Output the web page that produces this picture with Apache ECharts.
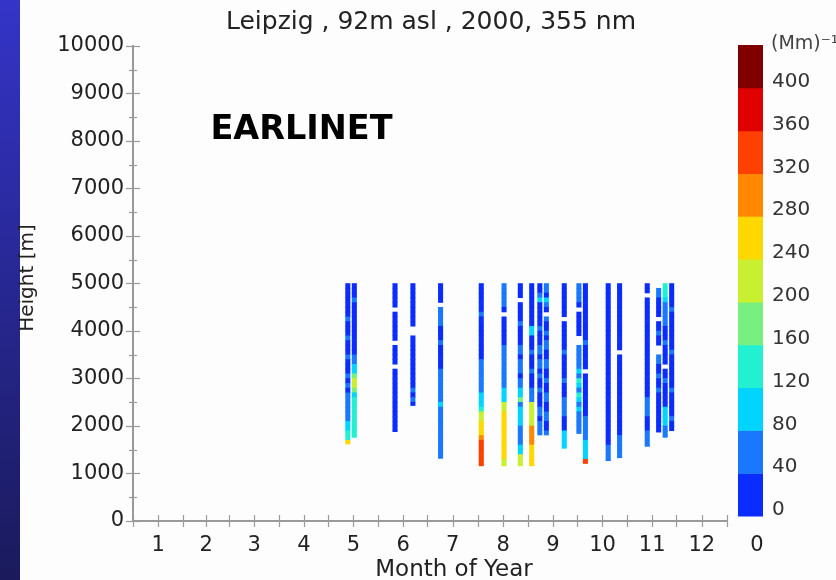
<!DOCTYPE html>
<html><head><meta charset="utf-8">
<script src="https://cdn.jsdelivr.net/npm/echarts@6/dist/echarts.min.js"></script>
<style>html,body{margin:0;padding:0;background:#fdfdfd}#c{width:836px;height:580px}</style>
</head><body><div id="c"></div><script>
// ---------- data ----------
const titleText = 'Leipzig , 92m asl , 2000, 355 nm';
const monthLabels = ['1','2','3','4','5','6','7','8','9','10','11','12'];
const monthMidDays = [15.5, 45, 74.5, 105, 135.5, 166, 196.5, 227.5, 258, 288.5, 319, 349.5];
const monthStartDays = [0, 31, 59, 90, 120, 151, 181, 212, 243, 273, 304, 334, 365];
const heightMin = 0, heightMax = 10000, heightStep = 1000;
const profileTop = 5000;   // top of each profile (m)
const binSize = 100;       // vertical resolution of the profiles (m)
// day of year of each measurement profile
const profileDays = [132, 136, 161, 172, 189, 214, 228, 238, 245, 250, 254, 265, 274, 278, 292, 299, 316, 323, 327, 331];
// lowest height of each profile (m)
const profileBottoms = [1620, 1760, 1880, 2430, 1317, 1160, 1160, 1160, 1160, 1810, 1810, 1530, 1840, 1210, 1268, 1330, 1570, 1870, 1760, 1900];
// extinction (Mm^-1) per 100 m bin, from 5000 m downward; null = no data
const profileValues = [
 [20,20,20,20,20,20,20,60,20,20,20,60,20,20,20,60,20,20,20,60,20,60,20,60,60,60,60,60,60,100,100,140,140,260],
 [20,20,20,60,20,20,20,20,20,20,20,20,20,20,20,60,60,100,100,180,210,210,180,100,140,140,140,140,140,140,140,140,140],
 [20,20,20,20,20,null,20,20,20,20,20,20,null,20,20,20,20,null,20,20,20,20,20,20,20,20,20,20,20,20,20,20],
 [20,20,20,20,20,20,20,20,20,null,null,20,20,20,20,20,20,20,20,20,20,20,60,20,60,20],
 [20,20,20,20,null,60,60,60,60,20,20,20,60,20,20,20,20,20,60,60,60,60,60,60,60,100,60,60,60,60,60,60,60,60,60,60,60],
 [20,20,20,20,20,20,60,20,20,20,20,20,20,20,20,20,60,60,60,60,60,60,60,100,100,100,140,220,220,260,260,260,300,340,340,340,340,340,340],
 [60,60,60,60,60,20,null,20,20,20,20,20,20,60,60,60,60,60,60,60,60,60,100,100,100,220,220,260,260,260,260,260,260,260,260,260,260,220,220],
 [20,20,20,null,20,20,20,20,60,20,20,20,20,60,60,20,60,60,60,20,60,60,100,100,180,60,100,100,100,100,60,60,60,60,100,100,220,220,220],
 [20,20,20,20,20,20,20,20,20,100,100,20,20,20,60,20,20,20,60,20,20,20,60,60,60,220,220,220,220,220,300,300,300,300,260,260,260,260,260],
 [20,20,60,100,20,20,20,20,20,60,20,20,20,60,60,20,60,60,20,60,20,20,60,20,20,20,60,60,20,60,60,60],
 [60,60,20,100,60,20,null,60,20,20,60,20,60,60,20,20,60,60,20,20,60,20,20,60,60,20,20,60,60,20,20,60],
 [20,20,20,20,20,20,20,null,20,20,20,20,20,20,60,20,20,20,20,20,60,20,20,20,60,60,60,60,20,20,20,100,100,100,100],
 [60,60,60,60,20,null,20,20,20,20,20,null,null,60,60,60,60,60,100,60,140,100,60,140,100,60,100,60,60,60,60,60],
 [20,20,20,20,20,20,20,20,20,20,20,20,60,20,20,20,20,20,null,20,20,20,20,20,20,20,20,20,60,60,60,60,60,100,100,100,100,320],
 [20,20,20,20,20,20,20,20,20,20,20,20,20,20,20,20,20,20,20,20,20,20,20,20,20,20,20,20,20,20,20,20,20,20,60,60,60,60],
 [20,20,20,20,20,20,20,20,20,20,20,20,20,20,null,20,20,20,20,20,20,20,20,20,20,20,20,20,20,20,20,20,60,60,60,60,60],
 [20,20,null,20,20,20,20,20,20,20,20,20,20,20,20,20,20,20,20,20,20,20,20,20,60,60,60,60,20,20,20,60,60,60,60],
 [null,60,60,20,20,20,20,null,20,20,60,20,20,null,null,60,60,20,20,60,20,20,60,20,20,20,20,20,20,20,20,20],
 [140,140,140,100,60,60,60,60,60,20,20,20,60,20,20,20,20,null,20,20,60,20,20,20,20,20,100,100,100,100,60,60,60],
 [20,20,20,20,20,60,20,20,20,20,20,20,20,20,60,20,20,20,20,20,20,20,60,20,20,20,20,20,60,20,20]
];
// colour scale
const colorLevels = [0, 40, 80, 120, 160, 200, 240, 280, 320, 360, 400];
const colorStep = 40;
const colorBands = ['#0a2cff','#1a78ff','#00d4ff','#22f0d0','#78f080','#c8f030','#ffd800','#ff8800','#ff4000','#e00000','#800000'];

// ---------- build ----------
function colorFor(v) {
  let k = 0;
  for (let i = 0; i < colorLevels.length; i++) if (v >= colorLevels[i]) k = i;
  return colorBands[k];
}
const cells = [];
profileDays.forEach((d, p) => {
  profileValues[p].forEach((v, i) => {
    if (v === null) return;
    const top = profileTop - binSize * i;
    const bot = Math.max(top - binSize, profileBottoms[p]);
    cells.push([d, top, bot, v]);
  });
});
const bandData = colorLevels.map((lv, i) => [0, lv, lv + colorStep, i]);
const xTicks = monthStartDays.concat(monthMidDays);
const FONT = 'DejaVu Sans';
const AX = '#9a9a9a';

const chart = echarts.init(document.getElementById('c'), null, {renderer: 'canvas'});
chart.setOption({
  animation: false,
  backgroundColor: '#fdfdfd',
  grid: [
    {left: 133, right: 109, top: 46, bottom: 59, show: false},
    {left: 738, width: 25, top: 45, height: 471, show: false}
  ],
  xAxis: [
    {type: 'value', gridIndex: 0, min: 0, max: 365, position: 'bottom',
     axisLine: {show: true, lineStyle: {color: AX, width: 2}},
     axisTick: {show: true, inside: true, length: 6, customValues: xTicks, lineStyle: {color: AX, width: 1.2}},
     axisLabel: {show: true, customValues: monthMidDays, margin: 14,
       formatter: (v) => monthLabels[monthMidDays.indexOf(v)],
       fontFamily: FONT, fontSize: 21, color: '#222'},
     splitLine: {show: false}},
    {type: 'value', gridIndex: 0, min: 0, max: 365, position: 'top',
     axisLine: {show: true, lineStyle: {color: AX, width: 2}},
     axisTick: {show: true, inside: true, length: 6, customValues: xTicks, lineStyle: {color: AX, width: 1.2}},
     axisLabel: {show: false}, splitLine: {show: false}},
    {type: 'value', gridIndex: 1, min: 0, max: 1, show: false}
  ],
  yAxis: [
    {type: 'value', gridIndex: 0, min: heightMin, max: heightMax, interval: heightStep, position: 'left',
     axisLine: {show: true, lineStyle: {color: AX, width: 2}},
     axisTick: {show: true, inside: true, length: 7, lineStyle: {color: AX, width: 1.2}},
     minorTick: {show: true, splitNumber: 2, length: 4, lineStyle: {color: AX, width: 1.2}},
     axisLabel: {margin: 9, fontFamily: FONT, fontSize: 21, color: '#222', formatter: (v) => String(v)},
     splitLine: {show: false}},
    {type: 'value', gridIndex: 0, min: heightMin, max: heightMax, interval: heightStep, position: 'right',
     axisLine: {show: true, lineStyle: {color: AX, width: 2}},
     axisTick: {show: true, inside: true, length: 7, lineStyle: {color: AX, width: 1.2}},
     minorTick: {show: true, splitNumber: 2, length: 4, lineStyle: {color: AX, width: 1.2}},
     axisLabel: {show: false}, splitLine: {show: false}},
    {type: 'value', gridIndex: 1, min: 0, max: 440, interval: 40, position: 'right',
     axisLine: {show: false}, axisTick: {show: false}, splitLine: {show: false},
     axisLabel: {margin: 9, fontFamily: FONT, fontSize: 20, color: '#333', verticalAlign: 'bottom', lineHeight: 12,
       formatter: (v) => (v >= 440 ? '' : String(v))}}
  ],
  series: [
    {type: 'custom', xAxisIndex: 0, yAxisIndex: 0, data: cells, silent: true,
     renderItem: (params, api) => {
       const d = api.value(0);
       const p1 = api.coord([d - 1.55, api.value(1)]);
       const p2 = api.coord([d + 1.55, api.value(2)]);
       return {type: 'rect', shape: {x: p1[0], y: p1[1] - 0.3, width: p2[0] - p1[0], height: p2[1] - p1[1] + 0.6},
         style: {fill: colorFor(api.value(3))}};
     }},
    {type: 'custom', xAxisIndex: 2, yAxisIndex: 2, data: bandData, silent: true,
     renderItem: (params, api) => {
       const p1 = api.coord([0, api.value(2)]);
       const p2 = api.coord([1, api.value(1)]);
       return {type: 'rect', shape: {x: p1[0], y: p1[1], width: p2[0] - p1[0], height: p2[1] - p1[1] + 0.5},
         style: {fill: colorBands[api.value(3)]}};
     }}
  ],
  graphic: [
    {type: 'rect', left: 0, top: 0, shape: {width: 20, height: 580}, silent: true,
     style: {fill: new echarts.graphic.LinearGradient(0, 0, 0, 1, [{offset: 0, color: '#3434c8'}, {offset: 1, color: '#1a1a5c'}])}},
    {type: 'text', x: 431, y: 22, silent: true,
     style: {text: titleText, fontFamily: FONT, fontSize: 25, fill: '#222', align: 'center', verticalAlign: 'middle'}},
    {type: 'text', x: 301.5, y: 130, silent: true,
     style: {text: 'EARLINET', fontFamily: FONT, fontSize: 33.5, fontWeight: 'bold', fill: '#000', align: 'center', verticalAlign: 'middle'}},
    {type: 'text', x: 28, y: 278, rotation: Math.PI / 2, silent: true,
     style: {text: 'Height [m]', fontFamily: FONT, fontSize: 20, fill: '#222', align: 'center', verticalAlign: 'middle'}},
    {type: 'text', x: 454, y: 570, silent: true,
     style: {text: 'Month of Year', fontFamily: FONT, fontSize: 23, fill: '#222', align: 'center', verticalAlign: 'middle'}},
    {type: 'text', x: 757, y: 546, silent: true,
     style: {text: '0', fontFamily: FONT, fontSize: 21, fill: '#222', align: 'center', verticalAlign: 'middle'}},
    {type: 'text', x: 771, y: 44, silent: true,
     style: {text: '(Mm)\u207B\u00B9', fontFamily: FONT, fontSize: 19, fill: '#444', align: 'left', verticalAlign: 'middle'}}
  ]
});
</script></body></html>
